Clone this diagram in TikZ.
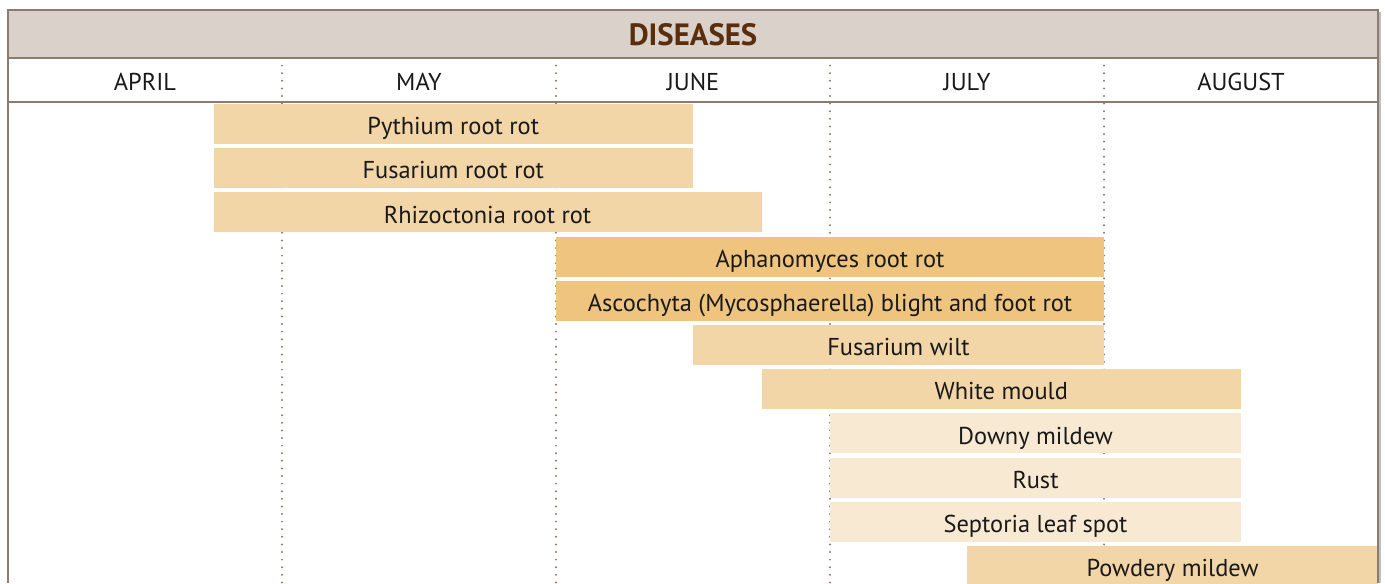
\documentclass[tikz,border=0pt]{standalone}
\usepackage{fontspec}
\setmainfont{PT Sans}
\usetikzlibrary{calc}

\definecolor{rahmen}{HTML}{8C7B6E}
\definecolor{kopf}{HTML}{D9D1CA}
\definecolor{titel}{HTML}{5A2D0C}
\definecolor{balkenA}{HTML}{F3D6A7}
\definecolor{balkenB}{HTML}{EEC47F}
\definecolor{balkenC}{HTML}{F8E9D3}

\begin{document}
\begin{tikzpicture}[x=137pt,y=-22.1pt,
  balken/.style={inner sep=0pt, minimum height=20pt, text=black!90,
    text height=10.6pt, text depth=0pt},
  monat/.style={inner sep=0pt, text=black!90, text height=10.2pt, text depth=0pt},
  font=\fontsize{12.2}{14}\selectfont]

% Grenzen
\def\xmin{0}
\def\xmax{5}
\def\ytop{-2.579}
\def\ykopf{-1.493}
\def\ymon{-0.498}
\def\ybot{10.385}

\useasboundingbox (-0.0292,-2.8054) rectangle (5.0255,\ybot);

% ------------------- Kopfzeile -------------------
\fill[kopf] (\xmin,\ytop) rectangle (\xmax,\ykopf);
\node[font=\fontsize{15.4}{17}\bfseries, text=titel, inner sep=0pt,
  text height=11pt, text depth=0pt] (titel) at (2.5,-2.036) {DISEASES};

% Monate
\foreach \m/\name [count=\i] in {0/APRIL,1/MAY,2/JUNE,3/JULY,4/AUGUST}
  \node[monat] (m\i) at (\m+0.5,-0.995) {\name};

% Trennlinien
\foreach \m in {1,2,3,4}
  \draw[rahmen, line width=1.1pt, line cap=round, dash pattern=on 0pt off 3.8pt]
    (\m,\ykopf) -- (\m,\ybot);

% ------------------- Balken -------------------
\foreach \a/\b/\r/\farbe/\name/\text in {
    0.75/2.5/0/balkenA/pyth/Pythium root rot,
    0.75/2.5/1/balkenA/fus/Fusarium root rot,
    0.75/2.75/2/balkenA/rhiz/Rhizoctonia root rot,
    2/4/3/balkenB/aph/Aphanomyces root rot,
    2/4/4/balkenB/asc/Ascochyta (Mycosphaerella) blight and foot rot,
    2.5/4/5/balkenA/wilt/Fusarium wilt,
    2.75/4.5/6/balkenA/mould/White mould,
    3/4.5/7/balkenC/downy/Downy mildew,
    3/4.5/8/balkenC/rust/Rust,
    3/4.5/9/balkenC/sept/Septoria leaf spot,
    3.5/5/10/balkenA/powd/Powdery mildew}
  \node[balken, fill=\farbe, minimum width={(\b-\a)*137pt}]
    (\name) at ({(\a+\b)/2},\r) {\text};

% ------------------- Rahmen -------------------
\draw[black!25, line width=1pt] (\xmax+0.006,\ytop+0.05) -- (\xmax+0.006,\ybot);
\draw[rahmen, line width=0.8pt] (\xmin,\ybot) -- (\xmin,\ytop) -- (\xmax,\ytop) -- (\xmax,\ybot);
\draw[rahmen, line width=0.8pt] (\xmin,\ykopf) -- (\xmax,\ykopf);
\draw[rahmen, line width=0.8pt] (\xmin,\ymon) -- (\xmax,\ymon);

\end{tikzpicture}
\end{document}
